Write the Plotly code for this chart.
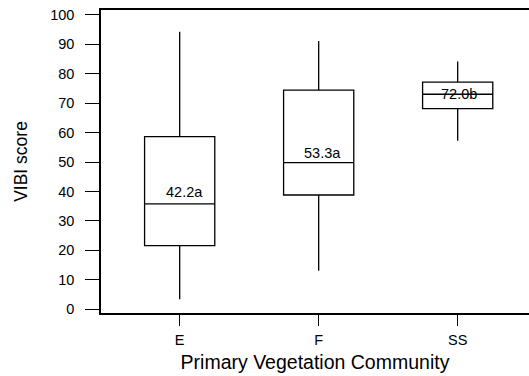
import plotly.graph_objects as go

# Vegetation community groups
communities = ["E", "F", "SS"]

# Box-plot summary statistics of VIBI score per community
whisker_low = [3.4, 13.1, 57.2]
q1_vals = [21.6, 38.8, 68.1]
medians = [35.8, 49.8, 73.0]
q3_vals = [58.6, 74.4, 77.1]
whisker_high = [94.2, 91.1, 84.1]

# Group means with significance letters
means = [42.2, 53.3, 72.0]
letters = ["a", "a", "b"]

y_ticks = list(range(0, 101, 10))

FONT = "Liberation Sans, Arial, sans-serif"

fig = go.Figure()
fig.add_trace(go.Box(
    x=communities,
    lowerfence=whisker_low,
    q1=q1_vals,
    median=medians,
    q3=q3_vals,
    upperfence=whisker_high,
    width=0.505,
    whiskerwidth=0,
    fillcolor="rgba(0,0,0,0)",
    line=dict(color="black", width=1.3),
    boxpoints=False,
    hoverinfo="skip",
))

# Mean labels, nudged a few pixels off the mean position
label_nudge_y = [-7, -1, 3]
label_nudge_x = [5, 4, 1]
for c, m, l, dy, dx in zip(communities, means, letters, label_nudge_y, label_nudge_x):
    fig.add_annotation(
        x=c, y=m, text=f"{m:.1f}{l}", showarrow=False,
        xshift=dx, yshift=dy,
        font=dict(family=FONT, size=14.5, color="black"),
    )

fig.update_layout(
    width=529, height=376,
    margin=dict(l=101, r=0, t=10, b=63),
    paper_bgcolor="white", plot_bgcolor="white",
    showlegend=False,
    font=dict(family=FONT, color="black"),
)

fig.update_xaxes(
    type="category",
    range=[-0.566, 2.513],
    showgrid=False, zeroline=False,
    showline=True, linecolor="black", linewidth=1.5, mirror=True,
    ticks="outside", ticklen=11, tickwidth=1.3, tickcolor="black",
    tickfont=dict(family=FONT, size=14.5),
    ticklabelstandoff=2,
    title=dict(text="Primary Vegetation Community", font=dict(family=FONT, size=19.5), standoff=8),
)
fig.update_yaxes(
    range=[-1.26, 101.6],
    tickvals=y_ticks,
    showgrid=False, zeroline=False,
    showline=True, linecolor="black", linewidth=1.5, mirror=False,
    ticks="outside", ticklen=14, tickwidth=1.3, tickcolor="black",
    tickfont=dict(family=FONT, size=14.5),
    ticklabelstandoff=8,
    title=dict(text="VIBI score", font=dict(family=FONT, size=17.5), standoff=18),
)

fig.write_html("out.html")
